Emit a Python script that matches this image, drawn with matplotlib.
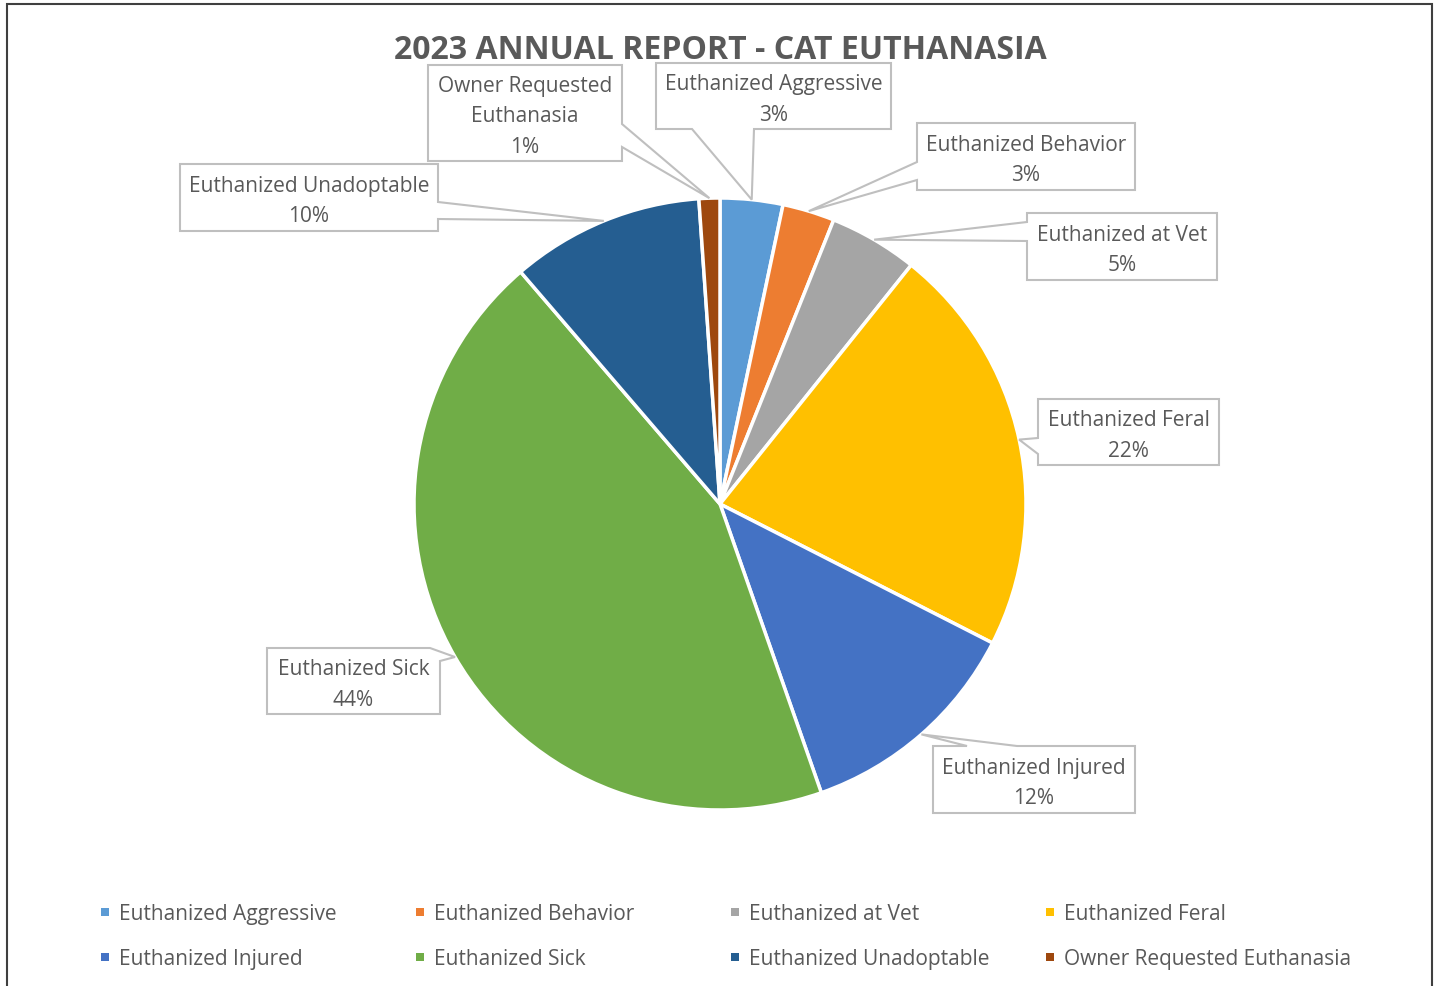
import numpy as np
import matplotlib.pyplot as plt
from matplotlib.patches import Polygon, Rectangle

W, H = 1437, 987

categories = ['Euthanized Aggressive', 'Euthanized Behavior', 'Euthanized at Vet',
              'Euthanized Feral', 'Euthanized Injured', 'Euthanized Sick',
              'Euthanized Unadoptable', 'Owner Requested Euthanasia']
counts = [12, 10, 17, 79, 44, 160, 37, 4]
colors = ['#5B9BD5', '#ED7D31', '#A5A5A5', '#FFC000',
          '#4472C4', '#70AD47', '#255E91', '#9E480E']
label_text = ['Euthanized Aggressive', 'Euthanized Behavior', 'Euthanized at Vet',
              'Euthanized Feral', 'Euthanized Injured', 'Euthanized Sick',
              'Euthanized Unadoptable', 'Owner Requested\nEuthanasia']

# callout boxes in pixel coords (left, top, right, bottom), side of the wedge, base points
callouts = [
    ((656, 64, 891, 130), 'bottom', (754, 692)),
    ((917, 124, 1135, 191), 'left', (181, 163)),
    ((1027, 214, 1217, 281), 'left', (242, 223)),
    ((1038, 400, 1219, 466), 'left', (455, 439)),
    ((933, 747, 1135, 814), 'top', (967, 1017)),
    ((267, 649, 440, 715), 'topright', (430, 662)),
    ((180, 165, 438, 232), 'right', (203, 220)),
    ((428, 66, 622, 162), 'right', (125, 148)),
]

TXT = '#595959'
plt.rcParams['font.family'] = ['Open Sans', 'DejaVu Sans']

fig = plt.figure(figsize=(W / 100, H / 100), dpi=100)
ax = fig.add_axes([0, 0, 1, 1])

cx, cy, r = 720, H - 505, 306
wedges, _ = ax.pie(counts, colors=colors, startangle=90, counterclock=False,
                   center=(cx, cy), radius=r,
                   wedgeprops=dict(edgecolor='white', linewidth=2.5))
ax.set_xlim(0, W)
ax.set_ylim(0, H)
ax.set_aspect('auto')
ax.axis('off')

total = sum(counts)


def box_poly(box, side, base, tip):
    l, t, rr, b = box
    if side == 'top':
        pts = [(l, t), (base[0], t), tip, (base[1], t), (rr, t), (rr, b), (l, b)]
    elif side == 'right':
        pts = [(l, t), (rr, t), (rr, base[0]), tip, (rr, base[1]), (rr, b), (l, b)]
    elif side == 'bottom':
        pts = [(l, t), (rr, t), (rr, b), (base[0], b), tip, (base[1], b), (l, b)]
    elif side == 'left':
        pts = [(l, t), (rr, t), (rr, b), (l, b), (l, base[0]), tip, (l, base[1])]
    else:  # topright corner
        pts = [(l, t), (base[0], t), tip, (rr, base[1]), (rr, b), (l, b)]
    return [(x, H - y) for x, y in pts]


for w, txt, n, (box, side, base) in zip(wedges, label_text, counts, callouts):
    mid = np.deg2rad((w.theta1 + w.theta2) / 2)
    tip_data = (w.center[0] + w.r * np.cos(mid), w.center[1] + w.r * np.sin(mid))
    tip = (tip_data[0], H - tip_data[1])
    poly = Polygon(box_poly(box, side, base, tip), closed=True, facecolor='white',
                   edgecolor='#BFBFBF', linewidth=1.5, zorder=5)
    ax.add_patch(poly)
    pct = f'{round(100 * n / total)}%'
    l, t, rr, b = box
    ax.text((l + rr) / 2, H - (t + b) / 2 - 3, f'{txt}\n{pct}', ha='center', va='center',
            fontsize=15, color=TXT, linespacing=1.6, zorder=6)

ax.text(720, H - 51, '2023 ANNUAL REPORT - CAT EUTHANASIA', ha='center', va='center',
        fontsize=23, fontweight='bold', color=TXT)

# legend, 4 columns x 2 rows
for i, (name, c) in enumerate(zip(categories, colors)):
    x = 105 + 315 * (i % 4)
    y = H - (913 + 45 * (i // 4))
    ax.add_patch(Rectangle((x - 4, y - 4), 8, 8, facecolor=c, edgecolor='none'))
    ax.text(x + 14, y - 2, name, ha='left', va='center', fontsize=15, color=TXT)

# chart border
ax.add_patch(Rectangle((7, -5), 1425, H, facecolor='none',
                       edgecolor='#3F3F3F', linewidth=1.5, clip_on=False))

fig.savefig('out.png', dpi=100)
